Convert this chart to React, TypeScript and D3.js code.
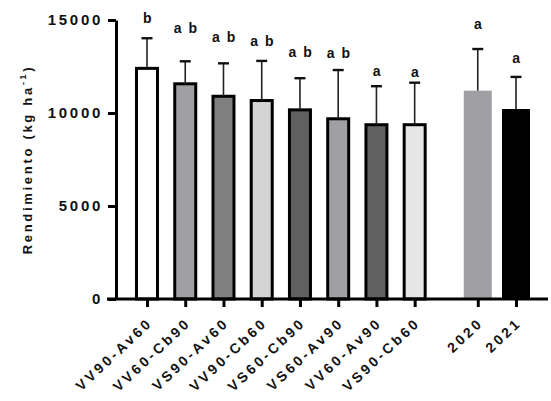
import { useEffect, useRef } from 'react'
import * as d3 from 'd3'

// treatments + years
const categories = ['VV90-Av60', 'VV60-Cb90', 'VS90-Av60', 'VV90-Cb60', 'VS60-Cb90', 'VS60-Av90', 'VV60-Av90', 'VS90-Cb60', '2020', '2021']
const means = [12400, 11570, 10900, 10670, 10170, 9690, 9370, 9370, 11200, 10215]
const sds = [1620, 1210, 1770, 2130, 1700, 2620, 2070, 2260, 2240, 1725]
const letters = ['b', 'a b', 'a b', 'a b', 'a b', 'a b', 'a', 'a', 'a', 'a']
const letterLevels = [14840, 14300, 13820, 13600, 13010, 12960, 11990, 11935, 14515, 12690]
const fills = ['#ffffff', '#a0a0a4', '#808080', '#d4d4d4', '#606060', '#a0a0a4', '#606060', '#e6e6e6', '#a0a0a4', '#000000']
const yTicks = [0, 5000, 10000, 15000]

const FONT = '"Liberation Sans", Arial, sans-serif'

export default function App() {
  const svgRef = useRef<SVGSVGElement>(null)
  const width = 551
  const height = 401

  useEffect(() => {
    if (!svgRef.current) return
    const svg = d3.select(svgRef.current)
    svg.selectAll('*').remove()

    const axisX = 116
    const baseY = 299

    const y = d3.scaleLinear().domain([0, 15000]).range([baseY, 20])

    // slot index per bar: the two years sit after an extra gap
    const slots = categories.map((_, i) => (i < 8 ? i : i + 0.65))
    const slotScale = d3.scaleLinear().domain([0, 9.65]).range([147, 516])
    const x = d3.scaleOrdinal<string, number>()
      .domain(categories)
      .range(slots.map(s => slotScale(s)))

    const bordered = (i: number) => i < 8

    // bars
    svg.append('g')
      .selectAll('rect')
      .data(categories)
      .enter()
      .append('rect')
      .attr('x', (d, i) => x(d) - (bordered(i) ? 10.5 : 14))
      .attr('width', (d, i) => (bordered(i) ? 21 : 28))
      .attr('y', (d, i) => y(means[i]))
      .attr('height', (d, i) => baseY - y(means[i]))
      .attr('fill', (d, i) => fills[i])
      .attr('stroke', (d, i) => (bordered(i) ? '#000' : 'none'))
      .attr('stroke-width', 3)

    // error bars (upper only)
    const err = svg.append('g')
    categories.forEach((c, i) => {
      const cx = x(c)
      const top = y(means[i] + sds[i])
      err.append('line')
        .attr('x1', cx).attr('x2', cx)
        .attr('y1', y(means[i]))
        .attr('y2', top)
        .attr('stroke', '#222')
        .attr('stroke-width', 1.6)
      err.append('line')
        .attr('x1', cx - 5.5).attr('x2', cx + 5.5)
        .attr('y1', top).attr('y2', top)
        .attr('stroke', '#111')
        .attr('stroke-width', 2.4)
    })

    // significance letters
    svg.append('g')
      .selectAll('text')
      .data(categories)
      .enter()
      .append('text')
      .attr('x', d => x(d) + 1)
      .attr('y', (d, i) => y(letterLevels[i]))
      .attr('text-anchor', 'middle')
      .style('font-family', FONT)
      .style('font-weight', 'bold')
      .style('font-size', '14px')
      .style('letter-spacing', '1.5px')
      .style('fill', '#111')
      .text((d, i) => letters[i])

    // y axis
    const yAxis = svg.append('g')
      .attr('transform', `translate(${axisX},0)`)
      .call(d3.axisLeft(y).tickValues(yTicks).tickSize(8).tickSizeOuter(0).tickFormat(d3.format('d')))
    yAxis.select('.domain').attr('stroke', '#000').attr('stroke-width', 3)
    yAxis.selectAll('.tick line').attr('stroke', '#000').attr('stroke-width', 3)
    yAxis.selectAll('.tick text')
      .attr('x', -13)
      .style('font-family', FONT)
      .style('font-weight', 'bold')
      .style('font-size', '15px')
      .style('letter-spacing', '2.7px')
      .style('fill', '#111')

    // x axis
    const xAxis = svg.append('g')
      .attr('transform', `translate(0,${baseY})`)
      .call(d3.axisBottom(x as any).tickSize(8))
    xAxis.select('.domain').remove()
    xAxis.selectAll('.tick line').attr('stroke', '#000').attr('stroke-width', 3)
    xAxis.selectAll('.tick text')
      .attr('y', 0)
      .attr('dy', 0)
      .attr('text-anchor', 'end')
      .attr('transform', 'translate(6,25) rotate(-43)')
      .style('font-family', FONT)
      .style('font-weight', 'bold')
      .style('font-size', '14px')
      .style('letter-spacing', '3px')
      .style('fill', '#111')
    svg.append('line')
      .attr('x1', 107).attr('x2', 548)
      .attr('y1', baseY).attr('y2', baseY)
      .attr('stroke', '#000')
      .attr('stroke-width', 3)

    // y title
    const title = svg.append('text')
      .attr('transform', `translate(32,${(baseY + 20) / 2}) rotate(-90)`)
      .attr('text-anchor', 'middle')
      .style('font-family', FONT)
      .style('font-weight', 'bold')
      .style('font-size', '13px')
      .style('letter-spacing', '2.7px')
      .style('fill', '#111')
    title.append('tspan').text('Rendimiento (kg ha')
    title.append('tspan').attr('dy', -6).style('font-size', '9px').text('-1')
    title.append('tspan').attr('dy', 6).text(')')
  }, [])

  return (
    <div style={{ position: 'absolute', left: 0, top: 0 }}>
      <svg ref={svgRef} width={width} height={height} style={{ display: 'block', background: '#fff' }} />
    </div>
  )
}
